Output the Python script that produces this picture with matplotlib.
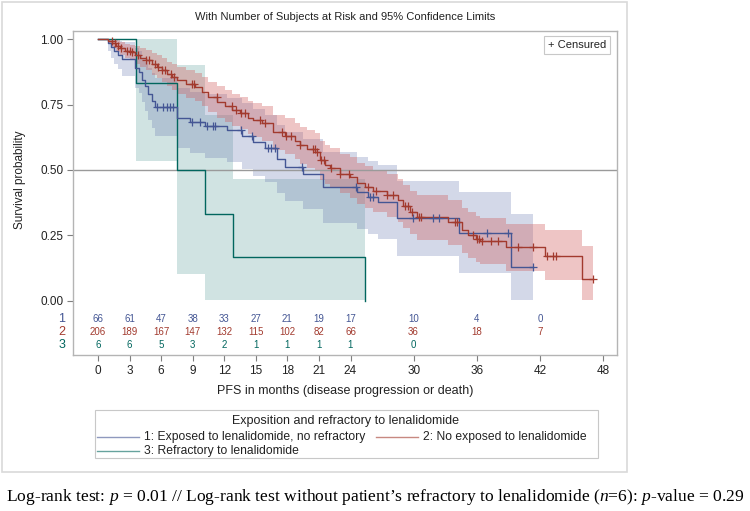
import numpy as np
import matplotlib
matplotlib.use("Agg")
import matplotlib.pyplot as plt
from matplotlib.patches import Rectangle
from matplotlib.lines import Line2D

plt.rcParams["font.family"] = ["Liberation Sans", "DejaVu Sans"]
plt.rcParams["mathtext.fontset"] = "custom"
plt.rcParams["mathtext.rm"] = "Liberation Serif"
plt.rcParams["mathtext.it"] = "Liberation Serif:italic"

# ============================
#   DATA
# ============================

# group 1: exposed to lenalidomide, no refractory
t1 = [0, 0.95, 1.2, 1.5, 1.9, 2.3, 3.5, 3.9, 4.2, 4.5, 4.75, 5.1, 5.4, 7.5, 8.7, 10.2, 12.3, 13.7, 14.7,
      15.9, 17.0, 17.8, 19.5, 21.4, 24.6, 25.7, 26.6, 28.4, 34.3, 39.3]
s1 = [1.0, 0.985, 0.97, 0.955, 0.94, 0.924, 0.89, 0.874, 0.845, 0.82, 0.79, 0.765, 0.74, 0.70, 0.682, 0.667,
      0.651, 0.628, 0.605, 0.582, 0.54, 0.513, 0.485, 0.433, 0.414, 0.395, 0.377, 0.314, 0.26, 0.127]
lo1 = [1.0, 0.955, 0.93, 0.905, 0.885, 0.86, 0.815, 0.795, 0.76, 0.725, 0.69, 0.66, 0.63, 0.585, 0.565, 0.545,
       0.53, 0.505, 0.478, 0.452, 0.41, 0.38, 0.35, 0.295, 0.275, 0.255, 0.235, 0.172, 0.107, 0.0]
hi1 = [1.0, 1.0, 1.0, 1.0, 0.995, 0.99, 0.965, 0.955, 0.93, 0.915, 0.89, 0.87, 0.85, 0.815, 0.80, 0.79,
       0.775, 0.755, 0.735, 0.712, 0.67, 0.645, 0.62, 0.57, 0.55, 0.535, 0.52, 0.456, 0.414, 0.33]
cens1 = [5.6, 6.2, 6.6, 6.8, 7.1, 8.9, 9.7, 10.4, 10.9, 11.1, 13.6, 14.6, 16.2, 16.4, 16.8, 19.4, 24.5,
         25.9, 26.1, 29.9, 31.8, 32.4, 37.0, 39.0, 41.35]
end1 = 41.35

# group 2: no exposed to lenalidomide
t2 = [0, 0.95, 1.33, 1.71, 2.09, 2.57, 3.04, 3.52, 3.99, 4.56, 5.13, 5.61, 6.08, 6.56, 7.03, 7.51, 8.37,
      9.22, 9.89, 10.46, 11.31, 12.07, 12.74, 13.5, 14.26, 14.73, 15.59, 16.63, 17.78, 18.73, 19.2, 19.87,
      20.63, 21.1, 21.58, 22.05, 23.0, 23.95, 24.62, 25.38, 26.14, 27.47, 28.52, 28.99, 29.66, 30.32, 33.27,
      34.6, 35.17, 35.93, 36.31, 38.78, 42.49, 46.0]
s2 = [1.0, 0.995, 0.985, 0.975, 0.965, 0.955, 0.95, 0.94, 0.93, 0.92, 0.905, 0.895, 0.882, 0.868, 0.855,
      0.843, 0.83, 0.816, 0.80, 0.78, 0.76, 0.745, 0.73, 0.718, 0.70, 0.69, 0.678, 0.644, 0.628, 0.61, 0.594,
      0.58, 0.567, 0.536, 0.52, 0.506, 0.486, 0.471, 0.448, 0.435, 0.42, 0.402, 0.383, 0.36, 0.337, 0.318,
      0.30, 0.268, 0.25, 0.235, 0.226, 0.203, 0.169, 0.084]
lo2 = [1.0, 0.985, 0.968, 0.953, 0.94, 0.927, 0.92, 0.907, 0.895, 0.882, 0.864, 0.852, 0.837, 0.821, 0.806,
       0.792, 0.777, 0.762, 0.744, 0.722, 0.70, 0.684, 0.668, 0.655, 0.636, 0.625, 0.612, 0.576, 0.559, 0.54,
       0.523, 0.508, 0.494, 0.462, 0.445, 0.43, 0.41, 0.394, 0.37, 0.356, 0.34, 0.321, 0.301, 0.277, 0.253,
       0.233, 0.214, 0.181, 0.162, 0.147, 0.138, 0.113, 0.08, 0.0]
hi2 = [1.0, 1.0, 1.0, 0.997, 0.99, 0.983, 0.98, 0.973, 0.965, 0.958, 0.946, 0.938, 0.927, 0.915, 0.904,
       0.894, 0.883, 0.87, 0.856, 0.838, 0.82, 0.806, 0.792, 0.781, 0.764, 0.755, 0.744, 0.712, 0.697, 0.68,
       0.665, 0.652, 0.64, 0.61, 0.595, 0.582, 0.562, 0.548, 0.526, 0.514, 0.50, 0.483, 0.465, 0.443, 0.421,
       0.403, 0.386, 0.355, 0.338, 0.323, 0.314, 0.293, 0.27, 0.21]
cens2 = [1.3, 1.6, 1.9, 2.2, 2.8, 3.0, 3.2, 3.8, 4.6, 4.8, 5.4, 5.7, 6.1, 6.4, 6.9, 7.2, 8.9, 9.1, 11.3,
         12.7, 13.1, 13.6, 14.0, 15.4, 15.9, 17.5, 17.9, 18.3, 19.2, 20.4, 20.6, 20.8, 21.2, 21.5, 22.1,
         23.0, 23.9, 25.7, 26.4, 27.5, 28.0, 29.2, 29.5, 29.8, 30.5, 30.7, 33.9, 34.1, 35.6, 36.0, 36.2,
         36.5, 37.4, 38.0, 39.9, 41.3, 42.7, 43.2, 43.5, 47.05]
end2 = 47.05

# group 3: refractory to lenalidomide
t3 = [0, 3.6, 7.5, 10.2, 12.8, 25.4]
s3 = [1.0, 0.833, 0.5, 0.333, 0.167, 0.0]
lo3 = [1.0, 0.535, 0.1, 0.0, 0.0, 0.0]
hi3 = [1.0, 1.0, 0.9, 0.71, 0.465, 0.0]
cens3 = []
end3 = 25.4

# number at risk
risk_times = [0, 3, 6, 9, 12, 15, 18, 21, 24, 30, 36, 42]
risk1 = [66, 61, 47, 38, 33, 27, 21, 19, 17, 10, 4, 0]
risk2 = [206, 189, 167, 147, 132, 115, 102, 82, 66, 36, 18, 7]
risk3 = [6, 6, 5, 3, 2, 1, 1, 1, 1, 0]

xticks = [0, 3, 6, 9, 12, 15, 18, 21, 24, 30, 36, 42, 48]
yticks = [0.0, 0.25, 0.5, 0.75, 1.0]

labels = ["1: Exposed to lenalidomide, no refractory",
          "2: No exposed to lenalidomide",
          "3: Refractory to lenalidomide"]

line_cols = ["#445694", "#A23A2E", "#01665E"]
fill_cols = ["#6F7EB3", "#D05B5B", "#66A5A0"]

W, H = 750, 511


def fx(x):
    return x / W


def fy(y):
    return 1 - y / H


def curva(ax, t, s, lo, hi, cens, t_end, cor, cor_fill, alpha):
    t = np.asarray(t, float)
    s = np.asarray(s, float)
    lo = np.asarray(lo, float)
    hi = np.asarray(hi, float)
    if t_end > t[-1]:
        t = np.append(t, t_end)
        s = np.append(s, s[-1])
        lo = np.append(lo, lo[-1])
        hi = np.append(hi, hi[-1])
    ax.fill_between(t, lo, hi, step="post", color=cor_fill, alpha=alpha, lw=0, zorder=1)
    ax.step(t, s, where="post", color=cor, lw=1.0, zorder=3)
    if len(cens):
        c = np.asarray(cens, float)
        idx = np.searchsorted(t, c, side="right") - 1
        ax.plot(c, s[idx], ls="", marker="+", ms=6, mew=0.9, color=cor, zorder=4)


fig = plt.figure(figsize=(7.5, 5.11), dpi=100)

ax_l, ax_r, ax_t, ax_b = 73, 617, 31.5, 355
ax = fig.add_axes([fx(ax_l), fy(ax_b), (ax_r - ax_l) / W, (ax_b - ax_t) / H])

x0px, x48px = 98, 603
ppm = (x48px - x0px) / 48
ax.set_xlim((ax_l - x0px) / ppm, (ax_r - x0px) / ppm)
y1px, y0px = 39.3, 300.5
ppu = y0px - y1px
ax.set_ylim(-(ax_b - y0px) / ppu, 1 + (y1px - ax_t) / ppu)

curva(ax, t3, s3, lo3, hi3, cens3, end3, line_cols[2], fill_cols[2], 0.3)
curva(ax, t1, s1, lo1, hi1, cens1, end1, line_cols[0], fill_cols[0], 0.3)
curva(ax, t2, s2, lo2, hi2, cens2, end2, line_cols[1], fill_cols[1], 0.35)

ax.axhline(0.5, color="#9a9a9a", lw=1.0, zorder=2)

ax.set_xticks(xticks)
ax.set_yticks(yticks)
ax.set_yticklabels([f"{v:.2f}" for v in yticks])
ax.tick_params(axis="both", direction="out", length=4, width=0.8, color="#7f7f7f",
               labelsize=8.5, labelcolor="#222222", pad=3)
for sp in ax.spines.values():
    sp.set_color("#b4b4b4")
    sp.set_linewidth(1.0)

# risk table inside the axes
row_y = [-(319 - y0px) / ppu, -(332 - y0px) / ppu, -(345 - y0px) / ppu]
for vals, yy, cor, nome in zip([risk1, risk2, risk3], row_y, line_cols, ["1", "2", "3"]):
    for tt, v in zip(risk_times, vals):
        ax.text(tt, yy, str(v), ha="center", va="center", fontsize=7, color=cor)
    ax.text((62 - x0px) / ppm, yy, nome, ha="center", va="center", fontsize=9, color=cor, clip_on=False)

# censored box
ax.text(fx(577), fy(45), "+ Censured", transform=fig.transFigure, ha="center", va="center",
        fontsize=8, color="#222222",
        bbox=dict(boxstyle="square,pad=0.35", fc="white", ec="#c8c8c8", lw=0.8))

fig.text(fx(345), fy(17), "With Number of Subjects at Risk and 95% Confidence Limits",
         ha="center", va="center", fontsize=8, color="#222222")
fig.text(fx(345), fy(391), "PFS in months (disease progression or death)",
         ha="center", va="center", fontsize=9, color="#222222")
fig.text(fx(20), fy(180), "Survival probability", rotation=90,
         ha="center", va="center", fontsize=8.5, color="#222222")

# legend
fig.add_artist(Rectangle((fx(95), fy(458)), (598 - 95) / W, (458 - 410) / H,
                         transform=fig.transFigure, fill=False, ec="#c8c8c8", lw=0.8))
fig.text(fx(346), fy(421), "Exposition and refractory to lenalidomide",
         ha="center", va="center", fontsize=9, color="#222222")
itens = [(97, 437, 0), (376, 437, 1), (97, 451, 2)]
for xx, yy, i in itens:
    fig.add_artist(Line2D([fx(xx), fx(xx + 42)], [fy(yy), fy(yy)], transform=fig.transFigure,
                          color=line_cols[i], lw=1.0, alpha=0.6))
    fig.text(fx(xx + 47), fy(yy), labels[i], ha="left", va="center", fontsize=8.7, color="#222222")

# outer border
fig.add_artist(Rectangle((fx(2), fy(472)), (627 - 2) / W, (472 - 2) / H,
                         transform=fig.transFigure, fill=False, ec="#d9d9d9", lw=1.2))

fig.text(fx(6), fy(497),
         "Log-rank test: $p$ = 0.01 // Log-rank test without patient\u2019s refractory to lenalidomide "
         "($n$=6): $p$-value = 0.29",
         ha="left", va="center", fontsize=12.6, family="Liberation Serif", color="black")

fig.savefig("out.png", dpi=100)
